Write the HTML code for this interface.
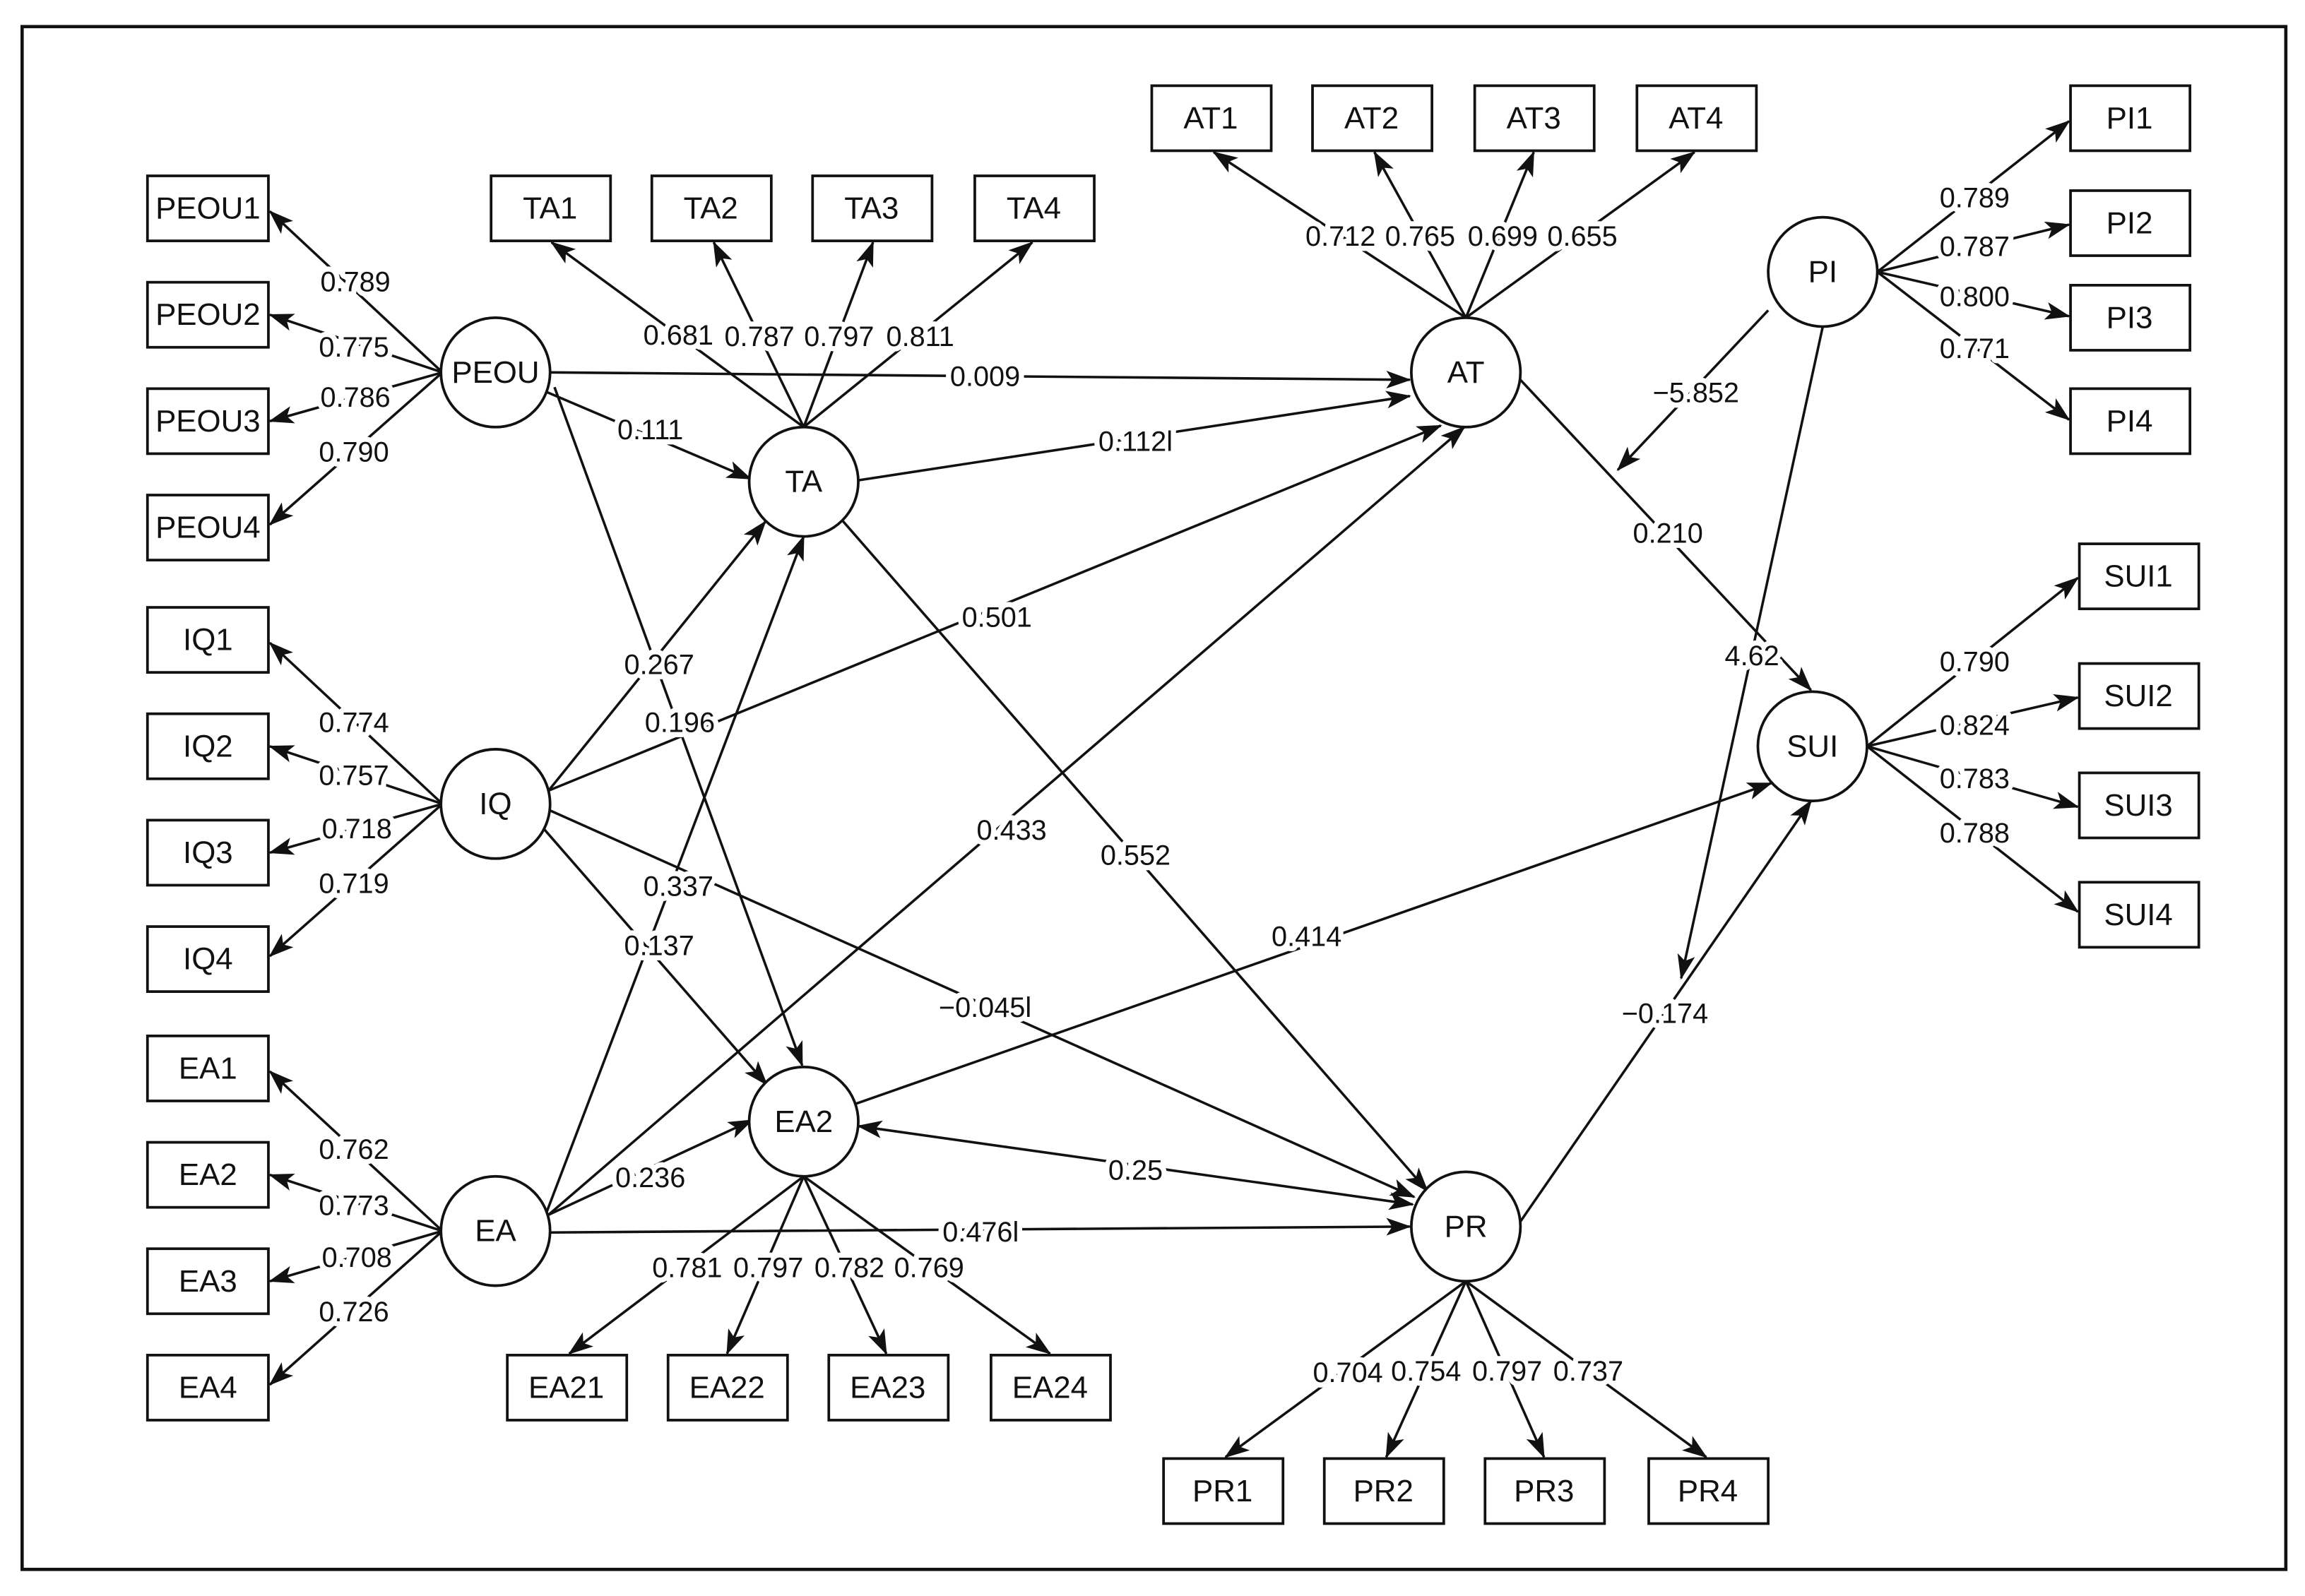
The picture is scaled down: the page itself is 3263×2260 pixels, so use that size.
<!DOCTYPE html>
<html><head><meta charset="utf-8"><style>
html,body{margin:0;padding:0;background:#fff}
svg{display:block}
text{font-family:"Liberation Sans",sans-serif;fill:#111}
.l{font-size:19px;text-anchor:middle;dominant-baseline:central;stroke:#fff;stroke-width:7px;paint-order:stroke;stroke-linejoin:round}
.n{font-size:21px;text-anchor:middle;dominant-baseline:central}
</style></head><body>
<svg width="3263" height="2260" viewBox="0 0 1563 1080" preserveAspectRatio="none" xmlns="http://www.w3.org/2000/svg">
<defs>
<marker id="a" markerUnits="userSpaceOnUse" markerWidth="18" markerHeight="14" refX="16" refY="6" orient="auto">
<path d="M0,0 L17,6 L0,12 L4,6 z" fill="#111"/></marker>
<marker id="b" markerUnits="userSpaceOnUse" markerWidth="18" markerHeight="14" refX="1" refY="6" orient="auto">
<path d="M17,0 L0,6 L17,12 L13,6 z" fill="#111"/></marker>
</defs>
<rect x="15" y="18" width="1535" height="1044" fill="none" stroke="#111" stroke-width="2.2"/>
<g stroke="#111" stroke-width="1.7" fill="none" marker-end="url(#a)">
<line x1="300" y1="252" x2="183" y2="143"/>
<line x1="300" y1="252" x2="183" y2="213"/>
<line x1="300" y1="252" x2="183" y2="285"/>
<line x1="300" y1="252" x2="183" y2="355"/>
<line x1="300" y1="544" x2="183" y2="435"/>
<line x1="300" y1="544" x2="183" y2="505"/>
<line x1="300" y1="544" x2="183" y2="577"/>
<line x1="300" y1="544" x2="183" y2="647"/>
<line x1="300" y1="833" x2="183" y2="725"/>
<line x1="300" y1="833" x2="183" y2="795"/>
<line x1="300" y1="833" x2="183" y2="867"/>
<line x1="300" y1="833" x2="183" y2="937"/>
<line x1="545" y1="289" x2="374" y2="164"/>
<line x1="545" y1="289" x2="484" y2="164"/>
<line x1="545" y1="289" x2="592" y2="164"/>
<line x1="545" y1="289" x2="700" y2="164"/>
<line x1="994" y1="215" x2="823" y2="103"/>
<line x1="994" y1="215" x2="932" y2="103"/>
<line x1="994" y1="215" x2="1040" y2="103"/>
<line x1="994" y1="215" x2="1149" y2="103"/>
<line x1="1273" y1="184" x2="1403" y2="82"/>
<line x1="1273" y1="184" x2="1403" y2="152"/>
<line x1="1273" y1="184" x2="1403" y2="214"/>
<line x1="1273" y1="184" x2="1403" y2="284"/>
<line x1="1266" y1="505" x2="1409" y2="391"/>
<line x1="1266" y1="505" x2="1409" y2="472"/>
<line x1="1266" y1="505" x2="1409" y2="546"/>
<line x1="1266" y1="505" x2="1409" y2="617"/>
<line x1="545" y1="796" x2="386" y2="916"/>
<line x1="545" y1="796" x2="493" y2="916"/>
<line x1="545" y1="796" x2="601" y2="916"/>
<line x1="545" y1="796" x2="712" y2="916"/>
<line x1="994" y1="867" x2="831" y2="986"/>
<line x1="994" y1="867" x2="940" y2="986"/>
<line x1="994" y1="867" x2="1047" y2="986"/>
<line x1="994" y1="867" x2="1157" y2="986"/>
<line x1="373" y1="252" x2="956" y2="257"/>
<line x1="370" y1="265" x2="509" y2="324"/>
<line x1="376" y1="262" x2="544" y2="721"/>
<line x1="582" y1="325" x2="956" y2="268"/>
<line x1="372" y1="535" x2="519" y2="353"/>
<line x1="372" y1="535" x2="977" y2="288"/>
<line x1="368" y1="560" x2="520" y2="734"/>
<line x1="372" y1="548" x2="959" y2="810"/>
<line x1="370" y1="822" x2="545" y2="363"/>
<line x1="372" y1="822" x2="993" y2="289"/>
<line x1="372" y1="822" x2="510" y2="758"/>
<line x1="373" y1="834" x2="956" y2="830"/>
<line x1="571" y1="352" x2="968" y2="806"/>
<line x1="580" y1="747" x2="1201" y2="530"/>
<line x1="582" y1="762" x2="958" y2="815" marker-start="url(#b)"/>
<line x1="1030" y1="256" x2="1228" y2="467"/>
<line x1="1199" y1="210" x2="1097" y2="318"/>
<line x1="1236" y1="221" x2="1140" y2="662"/>
<line x1="1030" y1="828" x2="1228" y2="542"/>
</g>
<g stroke="#111" stroke-width="1.8" fill="#fff">
<circle cx="336" cy="252" r="37"/><circle cx="545" cy="326" r="37"/><circle cx="994" cy="252" r="37"/>
<circle cx="1236" cy="184" r="37"/><circle cx="336" cy="544" r="37"/><circle cx="1229" cy="505" r="37"/>
<circle cx="545" cy="759" r="37"/><circle cx="336" cy="833" r="37"/><circle cx="994" cy="830" r="37"/>
<rect x="100" y="119" width="82" height="44"/><rect x="100" y="191" width="82" height="44"/><rect x="100" y="263" width="82" height="44"/><rect x="100" y="335" width="82" height="44"/>
<rect x="100" y="411" width="82" height="44"/><rect x="100" y="483" width="82" height="44"/><rect x="100" y="555" width="82" height="44"/><rect x="100" y="627" width="82" height="44"/>
<rect x="100" y="701" width="82" height="44"/><rect x="100" y="773" width="82" height="44"/><rect x="100" y="845" width="82" height="44"/><rect x="100" y="917" width="82" height="44"/>
<rect x="333" y="119" width="81" height="44"/><rect x="442" y="119" width="81" height="44"/><rect x="551" y="119" width="81" height="44"/><rect x="661" y="119" width="81" height="44"/>
<rect x="781" y="58" width="81" height="44"/><rect x="890" y="58" width="81" height="44"/><rect x="1000" y="58" width="81" height="44"/><rect x="1110" y="58" width="81" height="44"/>
<rect x="1404" y="58" width="81" height="44"/><rect x="1404" y="129" width="81" height="44"/><rect x="1404" y="193" width="81" height="44"/><rect x="1404" y="263" width="81" height="44"/>
<rect x="1410" y="368" width="81" height="44"/><rect x="1410" y="449" width="81" height="44"/><rect x="1410" y="523" width="81" height="44"/><rect x="1410" y="597" width="81" height="44"/>
<rect x="344" y="917" width="81" height="44"/><rect x="453" y="917" width="81" height="44"/><rect x="562" y="917" width="81" height="44"/><rect x="672" y="917" width="81" height="44"/>
<rect x="789" y="987" width="81" height="44"/><rect x="898" y="987" width="81" height="44"/><rect x="1007" y="987" width="81" height="44"/><rect x="1118" y="987" width="81" height="44"/>
</g>
<g>
<text class="n" x="336" y="252">PEOU</text><text class="n" x="545" y="326">TA</text><text class="n" x="994" y="252">AT</text>
<text class="n" x="1236" y="184">PI</text><text class="n" x="336" y="544">IQ</text><text class="n" x="1229" y="505">SUI</text>
<text class="n" x="545" y="759">EA2</text><text class="n" x="336" y="833">EA</text><text class="n" x="994" y="830">PR</text>
<text class="n" x="141" y="141">PEOU1</text><text class="n" x="141" y="213">PEOU2</text><text class="n" x="141" y="285">PEOU3</text><text class="n" x="141" y="357">PEOU4</text>
<text class="n" x="141" y="433">IQ1</text><text class="n" x="141" y="505">IQ2</text><text class="n" x="141" y="577">IQ3</text><text class="n" x="141" y="649">IQ4</text>
<text class="n" x="141" y="723">EA1</text><text class="n" x="141" y="795">EA2</text><text class="n" x="141" y="867">EA3</text><text class="n" x="141" y="939">EA4</text>
<text class="n" x="373" y="141">TA1</text><text class="n" x="482" y="141">TA2</text><text class="n" x="591" y="141">TA3</text><text class="n" x="701" y="141">TA4</text>
<text class="n" x="821" y="80">AT1</text><text class="n" x="930" y="80">AT2</text><text class="n" x="1040" y="80">AT3</text><text class="n" x="1150" y="80">AT4</text>
<text class="n" x="1444" y="80">PI1</text><text class="n" x="1444" y="151">PI2</text><text class="n" x="1444" y="215">PI3</text><text class="n" x="1444" y="285">PI4</text>
<text class="n" x="1450" y="390">SUI1</text><text class="n" x="1450" y="471">SUI2</text><text class="n" x="1450" y="545">SUI3</text><text class="n" x="1450" y="619">SUI4</text>
<text class="n" x="384" y="939">EA21</text><text class="n" x="493" y="939">EA22</text><text class="n" x="602" y="939">EA23</text><text class="n" x="712" y="939">EA24</text>
<text class="n" x="829" y="1009">PR1</text><text class="n" x="938" y="1009">PR2</text><text class="n" x="1047" y="1009">PR3</text><text class="n" x="1158" y="1009">PR4</text>
</g>
<g>
<text class="l" x="241" y="191">0.789</text><text class="l" x="240" y="235">0.775</text><text class="l" x="241" y="269">0.786</text><text class="l" x="240" y="306">0.790</text>
<text class="l" x="240" y="489">0.774</text><text class="l" x="240" y="525">0.757</text><text class="l" x="242" y="561">0.718</text><text class="l" x="240" y="598">0.719</text>
<text class="l" x="240" y="778">0.762</text><text class="l" x="240" y="816">0.773</text><text class="l" x="242" y="851">0.708</text><text class="l" x="240" y="888">0.726</text>
<text class="l" x="460" y="227">0.681</text><text class="l" x="515" y="228">0.787</text><text class="l" x="569" y="228">0.797</text><text class="l" x="624" y="228">0.811</text>
<text class="l" x="909" y="160">0.712</text><text class="l" x="963" y="160">0.765</text><text class="l" x="1019" y="160">0.699</text><text class="l" x="1073" y="160">0.655</text>
<text class="l" x="1339" y="134">0.789</text><text class="l" x="1339" y="167">0.787</text><text class="l" x="1339" y="201">0.800</text><text class="l" x="1339" y="236">0.771</text>
<text class="l" x="1339" y="448">0.790</text><text class="l" x="1339" y="491">0.824</text><text class="l" x="1339" y="527">0.783</text><text class="l" x="1339" y="564">0.788</text>
<text class="l" x="466" y="858">0.781</text><text class="l" x="521" y="858">0.797</text><text class="l" x="576" y="858">0.782</text><text class="l" x="630" y="858">0.769</text>
<text class="l" x="914" y="929">0.704</text><text class="l" x="967" y="928">0.754</text><text class="l" x="1022" y="928">0.797</text><text class="l" x="1077" y="928">0.737</text>
<text class="l" x="668" y="255">0.009</text><text class="l" x="441" y="291">0.111</text><text class="l" x="461" y="489">0.196</text>
<text class="l" x="770" y="299">0.112l</text><text class="l" x="447" y="450">0.267</text><text class="l" x="676" y="418">0.501</text>
<text class="l" x="447" y="640">0.137</text><text class="l" x="668" y="682">−0.045l</text><text class="l" x="460" y="600">0.337</text>
<text class="l" x="686" y="562">0.433</text><text class="l" x="441" y="797">0.236</text><text class="l" x="665" y="834">0.476l</text>
<text class="l" x="770" y="579">0.552</text><text class="l" x="886" y="634">0.414</text><text class="l" x="770" y="792">0.25</text>
<text class="l" x="1131" y="361">0.210</text><text class="l" x="1150" y="266">−5.852</text><text class="l" x="1188" y="444">4.62</text>
<text class="l" x="1129" y="686">−0.174</text>
</g>
</svg>
</body></html>
